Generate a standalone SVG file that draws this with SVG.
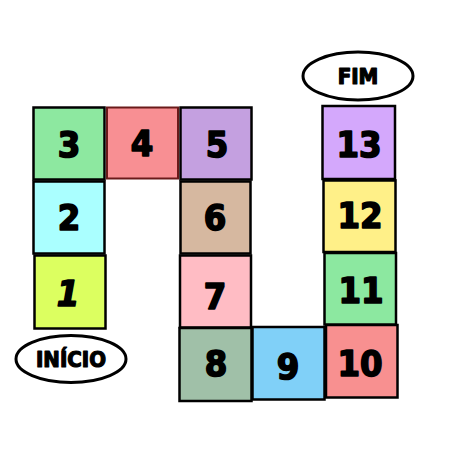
<svg xmlns="http://www.w3.org/2000/svg" width="456" height="474" viewBox="0 0 456 474">
<style>
.b{stroke:#000;stroke-width:2.5}
.t{font-family:"Liberation Sans Narrow","DejaVu Sans Condensed","DejaVu Sans",sans-serif;font-weight:bold;font-size:36px;fill:#000;stroke:#000;stroke-width:1.6;stroke-linejoin:round;text-anchor:middle}
.l{font-family:"Liberation Sans Narrow","DejaVu Sans Condensed","DejaVu Sans",sans-serif;font-weight:bold;font-size:22px;fill:#000;stroke:#000;stroke-width:1.2;stroke-linejoin:round;text-anchor:middle}
.e{fill:#fff;stroke:#000;stroke-width:3}
</style>
<rect width="456" height="474" fill="#fff"/>
<g id="n3"><rect class="b" x="33.5" y="107.5" width="71" height="72" fill="#8de8a0"/><text class="t" x="69" y="157">3</text></g>
<g id="n4"><rect x="107" y="107.5" width="71" height="71" fill="#f88f93" stroke="#6a1a1a" stroke-width="2"/><text class="t" x="142" y="156">4</text></g>
<g id="n5"><rect class="b" x="180.5" y="107.5" width="71" height="72" fill="#c4a0e0"/><text class="t" x="217" y="157">5</text></g>
<g id="n2"><rect class="b" x="33.5" y="181.5" width="71" height="72" fill="#aaffff"/><text class="t" x="69" y="230">2</text></g>
<g id="n6"><rect class="b" x="180.5" y="181.5" width="70" height="72" fill="#d6b8a0"/><text class="t" x="215" y="230">6</text></g>
<g id="n1"><rect class="b" x="34.5" y="255.5" width="71" height="73" fill="#dcff60"/><text class="t" x="68" y="306" font-style="italic">1</text></g>
<g id="n7"><rect class="b" x="180" y="255.5" width="71" height="72" fill="#ffbcc4"/><text class="t" x="215" y="309">7</text></g>
<g id="n8"><rect class="b" x="179.5" y="328" width="72" height="73" fill="#a0c0a8"/><text class="t" x="216" y="376">8</text></g>
<g id="n9"><rect class="b" x="252.5" y="327" width="72" height="72.5" fill="#80d0f8"/><text class="t" x="288" y="379">9</text></g>
<g id="n10"><rect class="b" x="326" y="325" width="71.5" height="72.5" fill="#f89090"/><text class="t" x="360" y="376">10</text></g>
<g id="n11"><rect class="b" x="324.5" y="253" width="71.5" height="71.5" fill="#8ce8a0"/><text class="t" x="361" y="303">11</text></g>
<g id="n12"><rect class="b" x="323.5" y="180.5" width="72" height="71.5" fill="#fff088"/><text class="t" x="360" y="228">12</text></g>
<g id="n13"><rect class="b" x="322.5" y="106" width="72.5" height="73" fill="#d4a8fc"/><text class="t" x="359" y="157">13</text></g>
<g id="fim"><ellipse class="e" cx="358" cy="76" rx="55" ry="24"/><text class="l" x="358" y="84">FIM</text></g>
<g id="inicio"><ellipse class="e" cx="71" cy="359" rx="55" ry="23.5"/><text class="l" x="71" y="367">INÍCIO</text></g>
<g id="connectors"></g>
</svg>
